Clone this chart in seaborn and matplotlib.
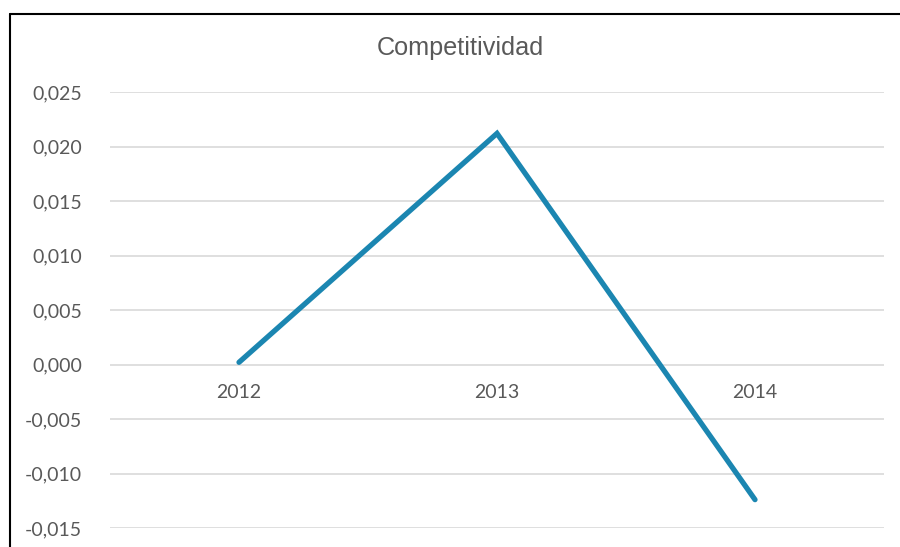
import matplotlib
matplotlib.use("Agg")
import matplotlib.pyplot as plt
import seaborn as sns
import pandas as pd
from matplotlib.lines import Line2D

years = ["2012", "2013", "2014"]
values = [0.0002, 0.0212, -0.0124]
yticks = [-0.015, -0.010, -0.005, 0.000, 0.005, 0.010, 0.015, 0.020, 0.025]
title = "Competitividad"

sns.set_theme(style="white")
plt.rcParams["font.family"] = ["Lato", "DejaVu Sans"]

df = pd.DataFrame({"idx": range(len(years)), "year": years, "value": values})

fig = plt.figure(figsize=(9, 5.47), dpi=100)
ax = fig.add_axes([110/900, 1-528/547, (884-110)/900, (528-92)/547])

sns.lineplot(data=df, x="idx", y="value", ax=ax, color="#1B86B1", linewidth=3.8,
             solid_capstyle="round", solid_joinstyle="miter", zorder=3)

ax.set_xlim(-0.5, len(years) - 0.5)
ax.set_ylim(-0.015, 0.025)
ax.set_yticks(yticks)
ax.set_yticklabels([f"{v:.3f}".replace(".", ",") for v in yticks])
ax.set_xticks(df["idx"])
ax.set_xticklabels(years)
ax.set_xlabel("")
ax.set_ylabel("")

for s in ["top", "right", "left"]:
    ax.spines[s].set_visible(False)
ax.spines["bottom"].set_position(("data", 0))
ax.spines["bottom"].set_visible(False)

ax.grid(axis="y", color="#D9D9D9", linewidth=1.2)
ax.grid(axis="x", visible=False)
ax.set_axisbelow(True)
ax.tick_params(axis="y", length=0, pad=20, labelsize=14, labelcolor="#595959")
ax.tick_params(axis="x", length=0, pad=14, labelsize=14, labelcolor="#595959")

fig.text(460.5/900, 1-48/547, title, ha="center", va="center",
         fontsize=18.2, color="#595959", family=["Liberation Sans", "DejaVu Sans"])

# chart border (left and top edges visible)
x0 = 9.5/900
yt = 1-13.5/547
fig.add_artist(Line2D([x0, x0], [0, yt], transform=fig.transFigure, color="black", linewidth=1.5))
fig.add_artist(Line2D([x0, 1], [yt, yt], transform=fig.transFigure, color="black", linewidth=1.5))

fig.savefig("out.png", dpi=100)
